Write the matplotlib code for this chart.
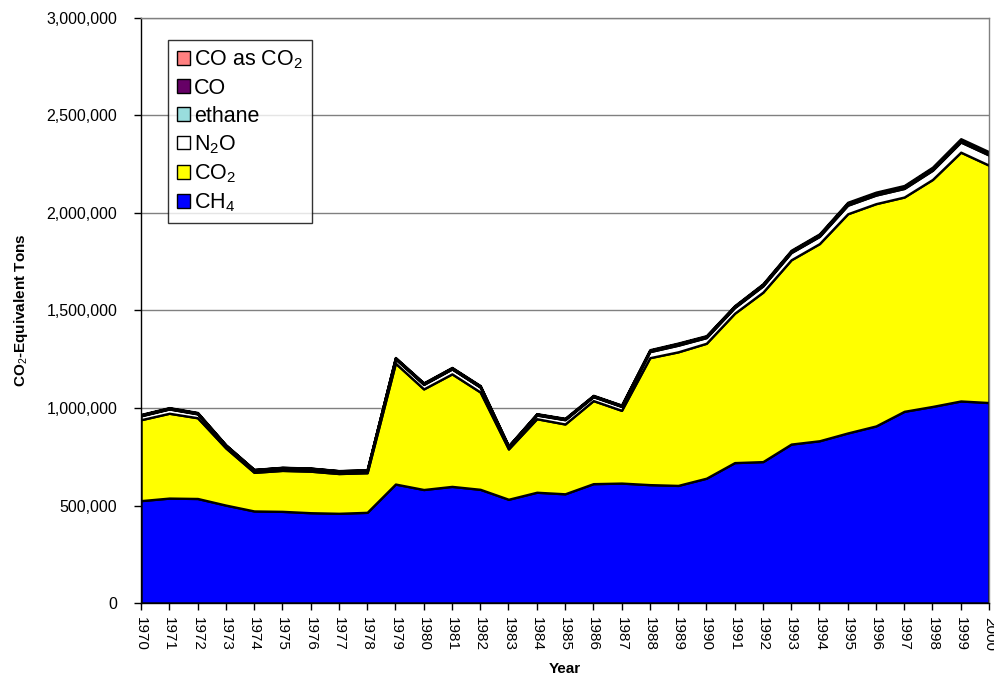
import matplotlib
matplotlib.use("Agg")
import matplotlib.pyplot as plt
from matplotlib.ticker import FuncFormatter, MultipleLocator
from matplotlib.patches import Patch

plt.rcParams['font.family'] = ['Liberation Sans', 'DejaVu Sans']
plt.rcParams['mathtext.fontset'] = 'custom'
plt.rcParams['mathtext.rm'] = 'Liberation Sans'
plt.rcParams['mathtext.it'] = 'Liberation Sans:italic'
plt.rcParams['mathtext.bf'] = 'Liberation Sans:bold'

years = list(range(1970, 2001))
ch4 = [525, 538, 536, 502, 472, 470, 463, 460, 465, 610, 582, 598, 583, 532, 568, 560,
       612, 615, 607, 603, 640, 720, 725, 815, 832, 872, 908, 983, 1008, 1036, 1028]
co2 = [415, 435, 414, 293, 198, 210, 213, 204, 203, 620, 516, 577, 499, 258, 377, 358,
       426, 373, 651, 685, 692, 766, 869, 945, 1011, 1124, 1140, 1099, 1164, 1276, 1217]
n2o = [20, 22, 20, 12, 11, 12, 12, 11, 11, 22, 23, 25, 25, 12, 19, 22,
       20, 20, 31, 34, 29, 29, 32, 37, 37, 44, 44, 44, 47, 52, 52]
ethane = [2, 2, 2, 1, 1, 1, 1, 1, 1, 2, 2, 2, 2, 1, 2, 2,
          2, 2, 3, 3, 3, 3, 3, 3, 3, 4, 4, 4, 4, 4, 4]
co = [3, 3, 3, 2, 2, 2, 2, 2, 2, 3, 4, 4, 4, 2, 3, 3,
      3, 3, 4, 5, 4, 4, 5, 5, 6, 6, 6, 6, 7, 7, 7]
co_as_co2 = [2, 2, 2, 1, 1, 1, 1, 1, 1, 2, 2, 2, 2, 1, 2, 2,
             2, 2, 3, 3, 3, 3, 3, 4, 4, 5, 5, 5, 5, 6, 6]

series = [ch4, co2, n2o, ethane, co, co_as_co2]
labels = ['CH$_4$', 'CO$_2$', 'N$_2$O', 'ethane', 'CO', 'CO as CO$_2$']
colors = ['#0000FF', '#FFFF00', '#FFFFFF', '#99DDDD', '#660066', '#FF8080']

fig = plt.figure(figsize=(9.95, 6.75), dpi=100)
ax = fig.add_axes([141/995, 1-603/675, (989-141)/995, (603-18)/675])

vals = [[v * 1000 for v in s] for s in series]
ax.stackplot(years, *vals, colors=colors, edgecolor='black', linewidth=1.7, zorder=2)

ax.set_xlim(1970, 2000)
ax.set_ylim(0, 3000000)
ax.yaxis.set_major_locator(MultipleLocator(500000))
ax.yaxis.set_major_formatter(FuncFormatter(lambda v, p: f'{int(v):,}'))
ax.set_xticks(years)
ax.set_xticklabels([str(y) for y in years], rotation=-90)
ax.tick_params(axis='both', direction='out', length=5, width=1, labelsize=11, colors='black')
ax.tick_params(axis='y', pad=12, labelsize=11.5)
ax.tick_params(axis='x', pad=5)
ax.grid(axis='y', color='#808080', linewidth=1, zorder=0)
ax.set_axisbelow(True)
for s in ['top', 'right']:
    ax.spines[s].set_color('#808080')
    ax.spines[s].set_linewidth(1)
for s in ['left', 'bottom']:
    ax.spines[s].set_color('black')
    ax.spines[s].set_linewidth(1)

ax.set_xlabel('Year', fontsize=11, fontweight='bold', labelpad=8)
ax.set_ylabel('CO$_2$-Equivalent Tons', fontsize=11, fontweight='bold', labelpad=12)

handles = [Patch(facecolor=c, edgecolor='black', linewidth=1) for c in colors]
leg = ax.legend(handles[::-1], labels[::-1], loc='upper left',
                bbox_to_anchor=((168-141)/848, 1-(40-18)/585),
                fontsize=15.5, frameon=True, fancybox=False, edgecolor='black',
                handlelength=0.6, handleheight=0.6, handletextpad=0.22,
                labelspacing=0.31, borderpad=0.4, borderaxespad=0)
leg.get_frame().set_linewidth(1)
leg.set_zorder(5)

fig.savefig('out.png', dpi=100)
